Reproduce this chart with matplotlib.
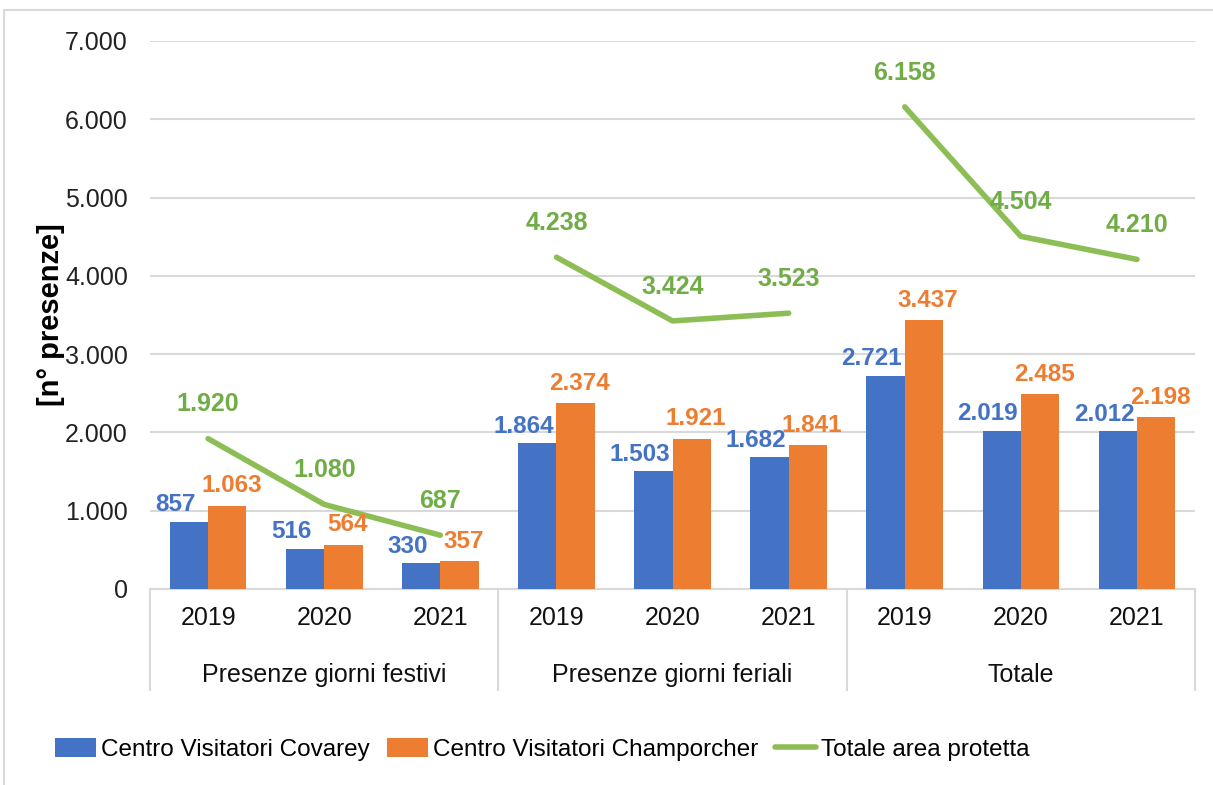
import numpy as np
import matplotlib
matplotlib.use('Agg')
import matplotlib.pyplot as plt
from matplotlib.patches import Rectangle
import matplotlib.transforms as mtransforms

plt.rcParams['font.family'] = ['Liberation Sans', 'DejaVu Sans']

groups = ['Presenze giorni festivi', 'Presenze giorni feriali', 'Totale']
years = ['2019', '2020', '2021']
covarey = [857, 516, 330, 1864, 1503, 1682, 2721, 2019, 2012]
champorcher = [1063, 564, 357, 2374, 1921, 1841, 3437, 2485, 2198]
totale = [1920, 1080, 687, 4238, 3424, 3523, 6158, 4504, 4210]

c_blue = '#4472C4'
c_orange = '#ED7D31'
c_green = '#70AD47'
c_line = '#8DBE55'


def fmt(v):
    return '{:,}'.format(v).replace(',', '.')


fig = plt.figure(figsize=(12.13, 7.85), dpi=100)
ax = fig.add_axes([0.1237, 0.2497, 0.8615, 0.6981])

x = np.arange(len(covarey))
w = 0.33
b1 = ax.bar(x - w/2, covarey, w, color=c_blue, label='Centro Visitatori Covarey', zorder=3)
b2 = ax.bar(x + w/2, champorcher, w, color=c_orange, label='Centro Visitatori Champorcher', zorder=3)

# the total line is broken between groups
for g in range(len(groups)):
    idx = x[g*3:(g+1)*3]
    ln, = ax.plot(idx, totale[g*3:(g+1)*3], color=c_line, lw=4, solid_capstyle='round', zorder=4,
                  label='Totale area protetta' if g == 0 else None)

for i in range(len(x)):
    ax.annotate(fmt(covarey[i]), (x[i] - w/2, covarey[i]), xytext=(-10, 4), textcoords='offset points',
                ha='center', va='bottom', color=c_blue, fontsize=17.5, fontweight='bold', zorder=5)
    ax.annotate(fmt(champorcher[i]), (x[i] + w/2, champorcher[i]), xytext=(3, 6), textcoords='offset points',
                ha='center', va='bottom', color=c_orange, fontsize=17.5, fontweight='bold', zorder=5)
    ax.annotate(fmt(totale[i]), (x[i], totale[i]), xytext=(0, 16), textcoords='offset points',
                ha='center', va='bottom', color=c_green, fontsize=18, fontweight='bold', zorder=5)

ax.set_xlim(-0.5, len(x) - 0.5)
ax.set_ylim(0, 7000)
ax.set_yticks(np.arange(0, 7001, 1000))
ax.set_yticklabels([fmt(v) for v in range(0, 7001, 1000)], fontsize=18, color='#222222')
ax.yaxis.grid(True, color='#D9D9D9', lw=1.5, zorder=0)
ax.tick_params(axis='y', length=0, pad=16)
for s in ['top', 'right', 'left']:
    ax.spines[s].set_visible(False)
ax.spines['bottom'].set_color('#D9D9D9')
ax.spines['bottom'].set_linewidth(1.5)

ax.set_xticks(x)
ax.set_xticklabels(years * 3, fontsize=18, color='#111111')
ax.tick_params(axis='x', length=0, pad=12)

trans = mtransforms.blended_transform_factory(ax.transData, ax.transAxes)
for b in [-0.5, 2.5, 5.5, 8.5]:
    ax.plot([b, b], [0, -0.185], transform=trans, color='#D9D9D9', lw=1.5, clip_on=False)
for g, name in enumerate(groups):
    ax.text(g*3 + 1, -0.157, name, transform=trans, ha='center', va='center', fontsize=18, color='#111111')

ax.set_ylabel('[n° presenze]', fontsize=21, fontweight='bold', labelpad=0)

handles, labels = ax.get_legend_handles_labels()
order = [1, 2, 0]
fig.legend([handles[k] for k in order], [labels[k] for k in order],
           loc='center left', bbox_to_anchor=(0.027, 0.045), ncol=3, frameon=False, fontsize=17.5,
           handlelength=1.7, handleheight=0.8, handletextpad=0.2, columnspacing=0.7)

fig.patches.append(Rectangle((0.003, -0.01), 1.0, 0.997, transform=fig.transFigure, fill=False,
                             edgecolor='#D9D9D9', lw=1.5))

fig.savefig('out.png', dpi=100)
